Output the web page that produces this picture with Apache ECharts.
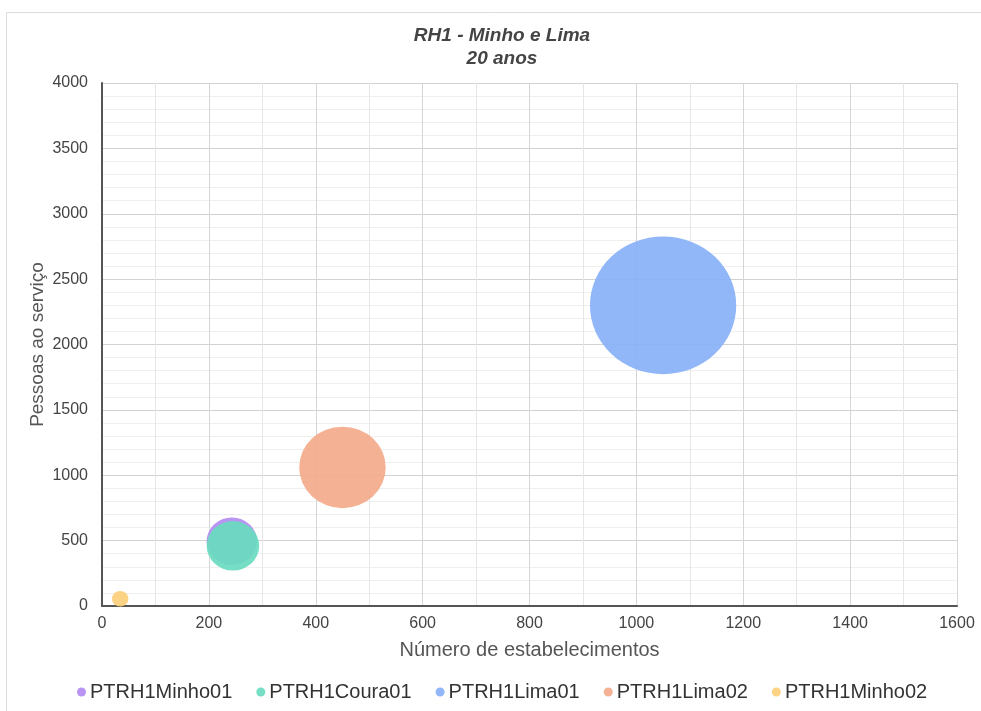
<!DOCTYPE html>
<html>
<head>
<meta charset="utf-8">
<script src="https://cdn.jsdelivr.net/npm/echarts@6/dist/echarts.min.js"></script>
<style>
html,body{margin:0;padding:0;background:#fff;}
#chart{width:981px;height:711px;}
</style>
</head>
<body>
<div id="chart"></div>
<script>
// Data
const seriesNames = ['PTRH1Minho01', 'PTRH1Coura01', 'PTRH1Lima01', 'PTRH1Lima02', 'PTRH1Minho02'];
const estabelecimentos = [243, 245, 1050, 450, 34];      // x
const pessoas = [495, 460, 2300, 1060, 55];              // y
const bubbleSize = [49, 51, 142, 84, 16];                // bubble diameter units
const colors = ['#b48cf2', '#6adcc0', '#8ab2f8', '#f4ab8b', '#fcd07c'];
const xTicks = [0, 200, 400, 600, 800, 1000, 1200, 1400, 1600];
const yTicks = [0, 500, 1000, 1500, 2000, 2500, 3000, 3500, 4000];

const chart = echarts.init(document.getElementById('chart'));
const FONT = '"Liberation Sans", Arial, sans-serif';

const series = seriesNames.map((name, i) => ({
  name: name,
  type: 'scatter',
  data: [[estabelecimentos[i], pessoas[i], bubbleSize[i]]],
  symbolSize: d => [d[2] * 1.03, d[2] * 0.97],
  itemStyle: { color: colors[i], opacity: 0.93 },
  emphasis: { disabled: true }
}));

chart.setOption({
  animation: false,
  backgroundColor: '#fff',
  graphic: [{
    type: 'rect',
    shape: { x: 6.5, y: 12.5, width: 990, height: 720 },
    style: { fill: 'none', stroke: '#dcdcdc', lineWidth: 1 },
    silent: true
  }],
  title: {
    text: 'RH1 - Minho e Lima\n20 anos',
    left: 497,
    top: 19,
    textAlign: 'center',
    textStyle: {
      fontFamily: FONT, fontSize: 19, fontStyle: 'italic', fontWeight: 'bold',
      color: '#444', lineHeight: 23
    }
  },
  legend: {
    data: seriesNames,
    left: 72,
    top: 677,
    icon: 'circle',
    itemWidth: 9,
    itemHeight: 9,
    itemGap: 24,
    textStyle: { fontFamily: FONT, fontSize: 20, color: '#333', padding: [0, 0, 0, -1] }
  },
  grid: { left: 102, right: 24, top: 83, bottom: 105, containLabel: false },
  xAxis: {
    type: 'value',
    min: xTicks[0], max: xTicks[xTicks.length - 1], interval: 200,
    name: 'Número de estabelecimentos',
    nameLocation: 'middle',
    nameGap: 34,
    nameMoveOverlap: false,
    nameTextStyle: { fontFamily: FONT, fontSize: 20, color: '#555' },
    axisLine: { lineStyle: { color: '#555', width: 2 } },
    axisTick: { show: false },
    axisLabel: { fontFamily: FONT, fontSize: 16, color: '#444', margin: 10,
      formatter: v => xTicks.includes(v) ? String(v) : '' },
    splitLine: { show: true, lineStyle: { color: '#d6d6d6', width: 1 } },
    minorTick: { show: false, splitNumber: 2 },
    minorSplitLine: { show: true, lineStyle: { color: '#e6e6e6', width: 1 } }
  },
  yAxis: {
    type: 'value',
    min: yTicks[0], max: yTicks[yTicks.length - 1], interval: 500,
    name: 'Pessoas ao serviço',
    nameLocation: 'middle',
    nameGap: 55,
    nameMoveOverlap: false,
    nameTextStyle: { fontFamily: FONT, fontSize: 19, color: '#555' },
    axisLine: { show: true, lineStyle: { color: '#555', width: 2 } },
    axisTick: { show: false },
    axisLabel: { fontFamily: FONT, fontSize: 16, color: '#444', margin: 14,
      formatter: v => yTicks.includes(v) ? String(v) : '' },
    splitLine: { show: true, lineStyle: { color: '#d2d2d2', width: 1 } },
    minorTick: { show: false, splitNumber: 5 },
    minorSplitLine: { show: true, lineStyle: { color: '#efefef', width: 1 } }
  },
  series: series
});
</script>
</body>
</html>
